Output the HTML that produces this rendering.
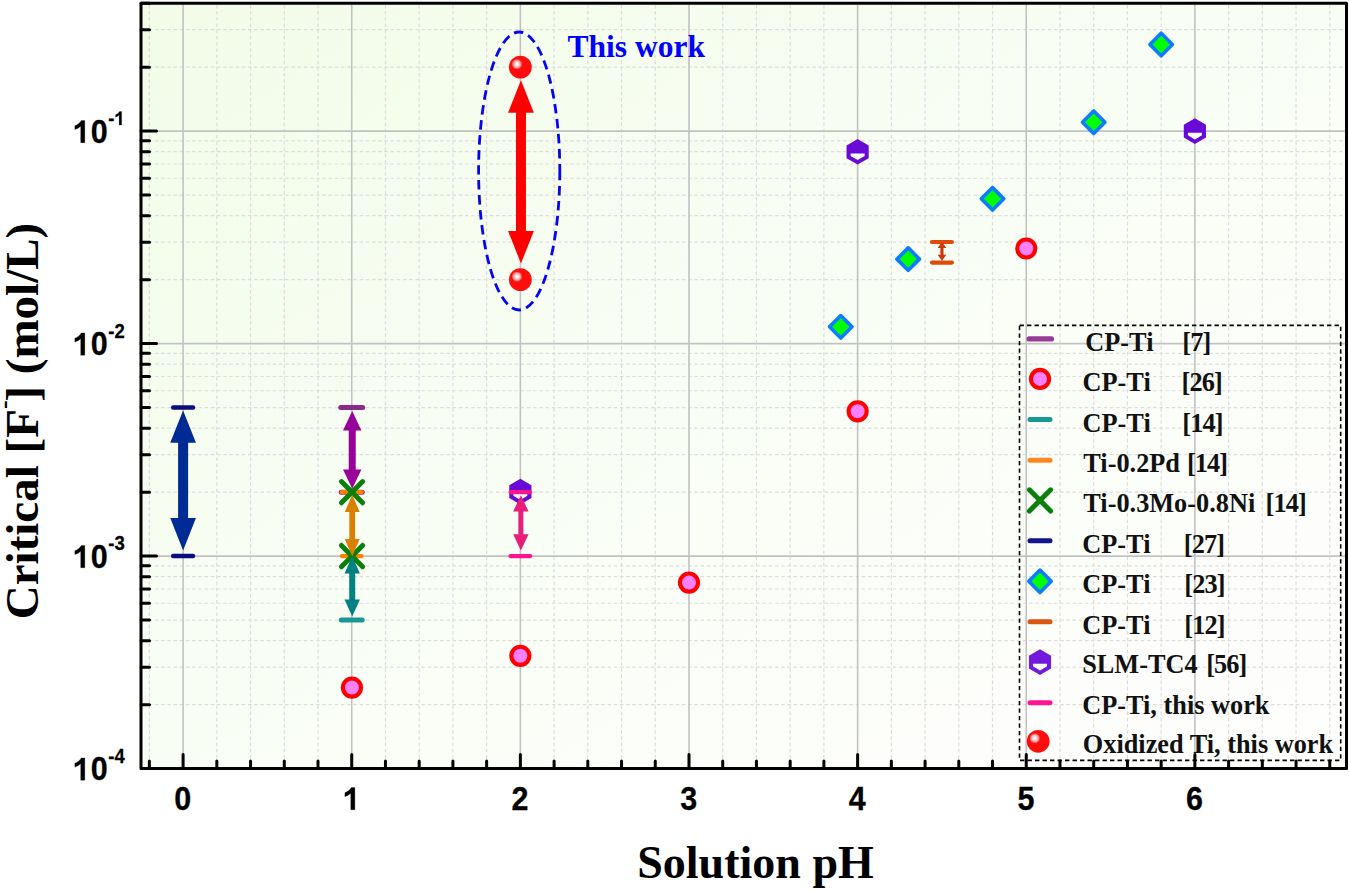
<!DOCTYPE html>
<html><head><meta charset="utf-8"><style>
html,body{margin:0;padding:0;background:#fff;width:1349px;height:890px;overflow:hidden}
svg{display:block}
.tk{font-family:"Liberation Sans",sans-serif;font-weight:bold;font-size:30.5px;fill:#000;stroke:#000;stroke-width:0.25px}
.sup{font-size:18.5px}
.ttl{font-family:"Liberation Serif",serif;font-weight:bold;font-size:46px;fill:#000}
.ttl2{font-family:"Liberation Serif",serif;font-weight:bold;font-size:47px;fill:#000}
.sup2{font-size:26px}
.lg{font-family:"Liberation Serif",serif;font-weight:bold;font-size:26.3px;fill:#111}
.tw{font-family:"Liberation Serif",serif;font-weight:bold;font-size:31.5px;fill:#0000ff}
</style></head><body>
<svg width="1349" height="890" viewBox="0 0 1349 890">
<defs><linearGradient id="bg" x1="0" y1="0" x2="1" y2="1"><stop offset="0" stop-color="#f2fce8"/><stop offset="0.5" stop-color="#f9fef5"/><stop offset="0.82" stop-color="#fdfefb"/><stop offset="1" stop-color="#fefefd"/></linearGradient><radialGradient id="hl" cx="0.5" cy="0.5" r="0.5"><stop offset="0" stop-color="#ffffff"/><stop offset="0.18" stop-color="#ffffff"/><stop offset="0.4" stop-color="#ffd0d0"/><stop offset="0.7" stop-color="#ff9090"/><stop offset="1" stop-color="#ff1010"/></radialGradient></defs>
<rect x="141.0" y="3.3" width="1205.5" height="765.2" fill="url(#bg)"/>
<path d="M149.37 4.8V767M216.83 4.8V767M250.55 4.8V767M284.28 4.8V767M318 4.8V767M385.46 4.8V767M419.18 4.8V767M452.91 4.8V767M486.63 4.8V767M554.09 4.8V767M587.81 4.8V767M621.54 4.8V767M655.26 4.8V767M722.72 4.8V767M756.44 4.8V767M790.17 4.8V767M823.89 4.8V767M891.35 4.8V767M925.07 4.8V767M958.8 4.8V767M992.52 4.8V767M1059.98 4.8V767M1093.7 4.8V767M1127.43 4.8V767M1161.15 4.8V767M1228.61 4.8V767M1262.33 4.8V767M1296.06 4.8V767M1329.78 4.8V767" stroke="#dddddd" stroke-width="1.2" stroke-dasharray="3.6 2.6" fill="none"/>
<path d="M142.5 704.63H1345M142.5 667.21H1345M142.5 640.66H1345M142.5 620.07H1345M142.5 603.24H1345M142.5 589.02H1345M142.5 576.69H1345M142.5 565.82H1345M142.5 492.13H1345M142.5 454.71H1345M142.5 428.16H1345M142.5 407.57H1345M142.5 390.74H1345M142.5 376.52H1345M142.5 364.19H1345M142.5 353.32H1345M142.5 279.63H1345M142.5 242.21H1345M142.5 215.66H1345M142.5 195.07H1345M142.5 178.24H1345M142.5 164.02H1345M142.5 151.69H1345M142.5 140.82H1345M142.5 67.13H1345M142.5 29.71H1345M142.5 3.16H1345" stroke="#dddddd" stroke-width="1.2" stroke-dasharray="3.6 2.6" fill="none"/>
<path d="M183.1 4.8V767M351.73 4.8V767M520.36 4.8V767M688.99 4.8V767M857.62 4.8V767M1026.25 4.8V767M1194.88 4.8V767M142.5 131.1H1345M142.5 343.6H1345M142.5 556.1H1345" stroke="#c2c2c2" stroke-width="1.6" fill="none"/>
<rect x="141.0" y="3.3" width="1205.5" height="765.2" fill="none" stroke="#000" stroke-width="3" stroke-linejoin="round"/>
<path d="M149.37 768.5V761M183.1 768.5V754.5M216.83 768.5V761M250.55 768.5V761M284.28 768.5V761M318 768.5V761M351.73 768.5V754.5M385.46 768.5V761M419.18 768.5V761M452.91 768.5V761M486.63 768.5V761M520.36 768.5V754.5M554.09 768.5V761M587.81 768.5V761M621.54 768.5V761M655.26 768.5V761M688.99 768.5V754.5M722.72 768.5V761M756.44 768.5V761M790.17 768.5V761M823.89 768.5V761M857.62 768.5V754.5M891.35 768.5V761M925.07 768.5V761M958.8 768.5V761M992.52 768.5V761M1026.25 768.5V754.5M1059.98 768.5V761M1093.7 768.5V761M1127.43 768.5V761M1161.15 768.5V761M1194.88 768.5V754.5M1228.61 768.5V761M1262.33 768.5V761M1296.06 768.5V761M1329.78 768.5V761M141 704.63H149.5M141 667.21H149.5M141 640.66H149.5M141 620.07H149.5M141 603.24H149.5M141 589.02H149.5M141 576.69H149.5M141 565.82H149.5M141 556.1H156.5M141 492.13H149.5M141 454.71H149.5M141 428.16H149.5M141 407.57H149.5M141 390.74H149.5M141 376.52H149.5M141 364.19H149.5M141 353.32H149.5M141 343.6H156.5M141 279.63H149.5M141 242.21H149.5M141 215.66H149.5M141 195.07H149.5M141 178.24H149.5M141 164.02H149.5M141 151.69H149.5M141 140.82H149.5M141 131.1H156.5M141 67.13H149.5M141 29.71H149.5M141 3.16H149.5" stroke="#000" stroke-width="3" stroke-linecap="round" fill="none"/>
<g transform="translate(182.8,809.8) scale(1,1.08)"><text x="0" y="0" class="tk" text-anchor="middle">0</text></g>
<path d="M800 0H525V1025Q375 890 130 815V1058Q262 1100 392 1200Q515 1298 562 1385H800Z" transform="translate(342.95,809.8) scale(0.01489,-0.01608)" fill="#000" stroke="#000" stroke-width="16.8"/>
<g transform="translate(520.06,809.8) scale(1,1.08)"><text x="0" y="0" class="tk" text-anchor="middle">2</text></g>
<g transform="translate(688.69,809.8) scale(1,1.08)"><text x="0" y="0" class="tk" text-anchor="middle">3</text></g>
<g transform="translate(857.32,809.8) scale(1,1.08)"><text x="0" y="0" class="tk" text-anchor="middle">4</text></g>
<g transform="translate(1025.95,809.8) scale(1,1.08)"><text x="0" y="0" class="tk" text-anchor="middle">5</text></g>
<g transform="translate(1194.58,809.8) scale(1,1.08)"><text x="0" y="0" class="tk" text-anchor="middle">6</text></g>
<path d="M800 0H525V1025Q375 890 130 815V1058Q262 1100 392 1200Q515 1298 562 1385H800Z" transform="translate(72.9,142.7) scale(0.01489,-0.01608)" fill="#000" stroke="#000" stroke-width="16.8"/>
<g transform="translate(90.66,142.7) scale(1,1.08)"><text x="0" y="0" class="tk">0</text></g>
<g transform="translate(108.23,125.1) scale(1,1.08)"><text x="0" y="0" class="tk sup">-</text></g>
<path d="M800 0H525V1025Q375 890 130 815V1058Q262 1100 392 1200Q515 1298 562 1385H800Z" transform="translate(114.39,125.1) scale(0.00903,-0.00976)" fill="#000" stroke="#000" stroke-width="27.7"/>
<path d="M800 0H525V1025Q375 890 130 815V1058Q262 1100 392 1200Q515 1298 562 1385H800Z" transform="translate(72.9,355.2) scale(0.01489,-0.01608)" fill="#000" stroke="#000" stroke-width="16.8"/>
<g transform="translate(90.66,355.2) scale(1,1.08)"><text x="0" y="0" class="tk">0</text></g>
<g transform="translate(108.23,337.6) scale(1,1.08)"><text x="0" y="0" class="tk sup">-</text></g>
<g transform="translate(114.39,337.6) scale(1,1.08)"><text x="0" y="0" class="tk sup">2</text></g>
<path d="M800 0H525V1025Q375 890 130 815V1058Q262 1100 392 1200Q515 1298 562 1385H800Z" transform="translate(72.9,567.7) scale(0.01489,-0.01608)" fill="#000" stroke="#000" stroke-width="16.8"/>
<g transform="translate(90.66,567.7) scale(1,1.08)"><text x="0" y="0" class="tk">0</text></g>
<g transform="translate(108.23,550.1) scale(1,1.08)"><text x="0" y="0" class="tk sup">-</text></g>
<g transform="translate(114.39,550.1) scale(1,1.08)"><text x="0" y="0" class="tk sup">3</text></g>
<path d="M800 0H525V1025Q375 890 130 815V1058Q262 1100 392 1200Q515 1298 562 1385H800Z" transform="translate(72.9,780.2) scale(0.01489,-0.01608)" fill="#000" stroke="#000" stroke-width="16.8"/>
<g transform="translate(90.66,780.2) scale(1,1.08)"><text x="0" y="0" class="tk">0</text></g>
<g transform="translate(108.23,762.6) scale(1,1.08)"><text x="0" y="0" class="tk sup">-</text></g>
<g transform="translate(114.39,762.6) scale(1,1.08)"><text x="0" y="0" class="tk sup">4</text></g>
<text x="755.5" y="877.8" class="ttl" text-anchor="middle">Solution pH</text>
<text transform="translate(38,421) rotate(-90)" class="ttl2" text-anchor="middle">Critical [F<tspan class="sup2" dx="0" dy="-26.5">-</tspan><tspan dx="-1.2" dy="26.5">]</tspan> (mol/L)</text>
<polygon points="183.1,410.5 195.95,442.8 188.1,442.8 188.1,518.1 195.95,518.1 183.1,550.4 170.25,518.1 178.1,518.1 178.1,442.8 170.25,442.8" fill="#002a94"/>
<line x1="173.2" y1="407.57" x2="193" y2="407.57" stroke="#0c0c7c" stroke-width="4.5" stroke-linecap="round"/>
<line x1="173.2" y1="556.1" x2="193" y2="556.1" stroke="#0c0c7c" stroke-width="4.5" stroke-linecap="round"/>
<line x1="340.73" y1="407.57" x2="362.73" y2="407.57" stroke="#8c2a8c" stroke-width="5" stroke-linecap="round"/>
<line x1="341.23" y1="492.13" x2="362.23" y2="492.13" stroke="#8c2a8c" stroke-width="5" stroke-linecap="round"/>
<line x1="341.23" y1="620.07" x2="362.23" y2="620.07" stroke="#1a9696" stroke-width="5" stroke-linecap="round"/>
<line x1="341.83" y1="492.13" x2="361.63" y2="492.13" stroke="#ff8000" stroke-width="4.2" stroke-linecap="round"/>
<line x1="341.83" y1="556.1" x2="361.63" y2="556.1" stroke="#ff8000" stroke-width="4.2" stroke-linecap="round"/>
<path d="M341.43 481.53L362.63 502.73M362.63 481.53L341.43 502.73" stroke="#0a800a" stroke-width="5" stroke-linecap="round"/>
<path d="M341.43 545.5L362.63 566.7M362.63 545.5L341.43 566.7" stroke="#0a800a" stroke-width="5" stroke-linecap="round"/>
<polygon points="352.23,411 361.43,430.4 355.73,430.4 355.73,469.4 361.43,469.4 352.23,488.8 343.03,469.4 348.73,469.4 348.73,430.4 343.03,430.4" fill="#990099"/>
<polygon points="352.23,494.8 359.73,512.1 355.13,512.1 355.13,539 359.73,539 352.23,556.3 344.73,539 349.33,539 349.33,512.1 344.73,512.1" fill="#d98000"/>
<polygon points="352.23,556.3 359.93,573.5 355.23,573.5 355.23,599.4 359.93,599.4 352.23,616.6 344.53,599.4 349.23,599.4 349.23,573.5 344.53,573.5" fill="#008080"/>
<circle cx="351.93" cy="687.6" r="9.05" fill="#ff80ff" stroke="#ff0000" stroke-width="4.1"/>
<polygon points="520.96,80.3 533.86,112.7 525.96,112.7 525.96,231 533.86,231 520.96,263.4 508.06,231 515.96,231 515.96,112.7 508.06,112.7" fill="#ff0000"/>
<circle cx="520.36" cy="67.13" r="11.4" fill="#ff0d0d"/><circle cx="516.96" cy="64.13" r="5.4" fill="url(#hl)"/>
<circle cx="520.36" cy="279.63" r="11.4" fill="#ff0d0d"/><circle cx="516.96" cy="276.63" r="5.4" fill="url(#hl)"/>
<ellipse cx="519.2" cy="171" rx="40.6" ry="139" fill="none" stroke="#0505f0" stroke-width="2.8" stroke-dasharray="9.5 5.5"/>
<polygon points="520.36,478.8 531.45,485.2 531.45,498 520.36,504.4 509.27,498 509.27,485.2" fill="#6a0ad6"/><polygon points="513.36,493.2 527.36,493.2 527.36,495.75 520.36,499.9 513.36,495.75" fill="#fff"/>
<polygon points="520.86,495.2 528.56,511.4 523.36,511.4 523.36,534.2 528.56,534.2 520.86,550.4 513.16,534.2 518.36,534.2 518.36,511.4 513.16,511.4" fill="#e81e78"/>
<line x1="510.71" y1="492.13" x2="530.01" y2="492.13" stroke="#ff1490" stroke-width="4.2" stroke-linecap="round"/>
<line x1="510.46" y1="556.1" x2="530.26" y2="556.1" stroke="#ff1490" stroke-width="4.2" stroke-linecap="round"/>
<circle cx="520.36" cy="655.8" r="9.05" fill="#ff80ff" stroke="#ff0000" stroke-width="4.1"/>
<circle cx="688.99" cy="582.6" r="9.05" fill="#ff80ff" stroke="#ff0000" stroke-width="4.1"/>
<polygon points="840.76,315.6 851.96,326.8 840.76,338 829.56,326.8" fill="#00ff00" stroke="#0a7dff" stroke-width="3.7" stroke-linejoin="round"/>
<polygon points="857.62,139 868.71,145.4 868.71,158.2 857.62,164.6 846.53,158.2 846.53,145.4" fill="#6a0ad6"/><polygon points="850.62,153.4 864.62,153.4 864.62,155.95 857.62,160.1 850.62,155.95" fill="#fff"/>
<circle cx="857.62" cy="411.3" r="9.05" fill="#ff80ff" stroke="#ff0000" stroke-width="4.1"/>
<polygon points="908.21,247.9 919.41,259.1 908.21,270.3 897.01,259.1" fill="#00ff00" stroke="#0a7dff" stroke-width="3.7" stroke-linejoin="round"/>
<line x1="931.94" y1="242" x2="951.94" y2="242" stroke="#e14b0a" stroke-width="4.2" stroke-linecap="round"/>
<line x1="931.94" y1="262.6" x2="951.94" y2="262.6" stroke="#e14b0a" stroke-width="4.2" stroke-linecap="round"/>
<polygon points="941.94,241.9 946.34,248 943.54,248 943.54,254.7 946.34,254.7 941.94,260.8 937.54,254.7 940.34,254.7 940.34,248 937.54,248" fill="#cd370a"/>
<polygon points="992.52,187.6 1003.72,198.8 992.52,210 981.32,198.8" fill="#00ff00" stroke="#0a7dff" stroke-width="3.7" stroke-linejoin="round"/>
<circle cx="1026.25" cy="248.5" r="9.05" fill="#ff80ff" stroke="#ff0000" stroke-width="4.1"/>
<polygon points="1093.7,111 1104.9,122.2 1093.7,133.4 1082.5,122.2" fill="#00ff00" stroke="#0a7dff" stroke-width="3.7" stroke-linejoin="round"/>
<polygon points="1161.15,33.3 1172.35,44.5 1161.15,55.7 1149.95,44.5" fill="#00ff00" stroke="#0a7dff" stroke-width="3.7" stroke-linejoin="round"/>
<polygon points="1194.88,118.3 1205.97,124.7 1205.97,137.5 1194.88,143.9 1183.79,137.5 1183.79,124.7" fill="#6a0ad6"/><polygon points="1187.88,132.7 1201.88,132.7 1201.88,135.25 1194.88,139.4 1187.88,135.25" fill="#fff"/>
<text x="567.5" y="57" class="tw">This work</text>
<rect x="1019.5" y="325.4" width="321.2" height="435" fill="none" stroke="#000" stroke-width="1.6" stroke-dasharray="4.4 3.1" stroke-linejoin="round"/>
<line x1="1029.2" y1="338.9" x2="1051.4" y2="338.9" stroke="#963c96" stroke-width="5.4" stroke-linecap="round"/>
<text x="1085.3" y="350.6" class="lg">CP-Ti</text>
<text x="1182.3" y="350.6" class="lg" letter-spacing="-0.9">[7]</text>
<circle cx="1040" cy="378.9" r="9.05" fill="#ff80ff" stroke="#ff0000" stroke-width="4.1"/>
<text x="1082.5" y="391.1" class="lg">CP-Ti</text>
<text x="1181.6" y="391.1" class="lg" letter-spacing="-0.9">[26]</text>
<line x1="1030" y1="419.5" x2="1050" y2="419.5" stroke="#199696" stroke-width="5" stroke-linecap="round"/>
<text x="1082.5" y="431.5" class="lg">CP-Ti</text>
<text x="1182.3" y="431.5" class="lg" letter-spacing="-0.9">[14]</text>
<line x1="1030" y1="460.2" x2="1050" y2="460.2" stroke="#ff8822" stroke-width="5" stroke-linecap="round"/>
<text x="1083.3" y="472" class="lg">Ti-0.2Pd</text>
<text x="1187.0" y="472" class="lg" letter-spacing="-0.9">[14]</text>
<path d="M1029.4 489.8L1050.6 511M1050.6 489.8L1029.4 511" stroke="#0a800a" stroke-width="5" stroke-linecap="round"/>
<text x="1083.3" y="512.2" class="lg">Ti-0.3Mo-0.8Ni</text>
<text x="1265.6" y="512.2" class="lg" letter-spacing="-0.9">[14]</text>
<line x1="1030" y1="540.8" x2="1050" y2="540.8" stroke="#14148c" stroke-width="5" stroke-linecap="round"/>
<text x="1082.3" y="552.9" class="lg">CP-Ti</text>
<text x="1183.8" y="552.9" class="lg" letter-spacing="-0.9">[27]</text>
<polygon points="1040,570.1 1051.2,581.3 1040,592.5 1028.8,581.3" fill="#00ff00" stroke="#0a7dff" stroke-width="3.7" stroke-linejoin="round"/>
<text x="1082.3" y="593.1" class="lg">CP-Ti</text>
<text x="1184.3" y="593.1" class="lg" letter-spacing="-0.9">[23]</text>
<line x1="1030" y1="621.7" x2="1050" y2="621.7" stroke="#dc5514" stroke-width="5" stroke-linecap="round"/>
<text x="1082.3" y="633.5" class="lg">CP-Ti</text>
<text x="1184.3" y="633.5" class="lg" letter-spacing="-0.9">[12]</text>
<polygon points="1040,649.3 1051.09,655.7 1051.09,668.5 1040,674.9 1028.91,668.5 1028.91,655.7" fill="#7319dc"/><polygon points="1033,663.7 1047,663.7 1047,666.25 1040,670.4 1033,666.25" fill="#fff"/>
<text x="1082.2" y="673.3" class="lg">SLM-TC4</text>
<text x="1206.2" y="673.3" class="lg" letter-spacing="-0.9">[56]</text>
<line x1="1030" y1="702.7" x2="1050" y2="702.7" stroke="#ff1496" stroke-width="5" stroke-linecap="round"/>
<text x="1082.2" y="713.8" class="lg">CP-Ti, this work</text>
<circle cx="1038.2" cy="741.3" r="11.4" fill="#ff0d0d"/><circle cx="1034.8" cy="738.3" r="5.4" fill="url(#hl)"/>
<text x="1082.8" y="753.1" class="lg">Oxidized Ti, this work</text>
</svg>
</body></html>
